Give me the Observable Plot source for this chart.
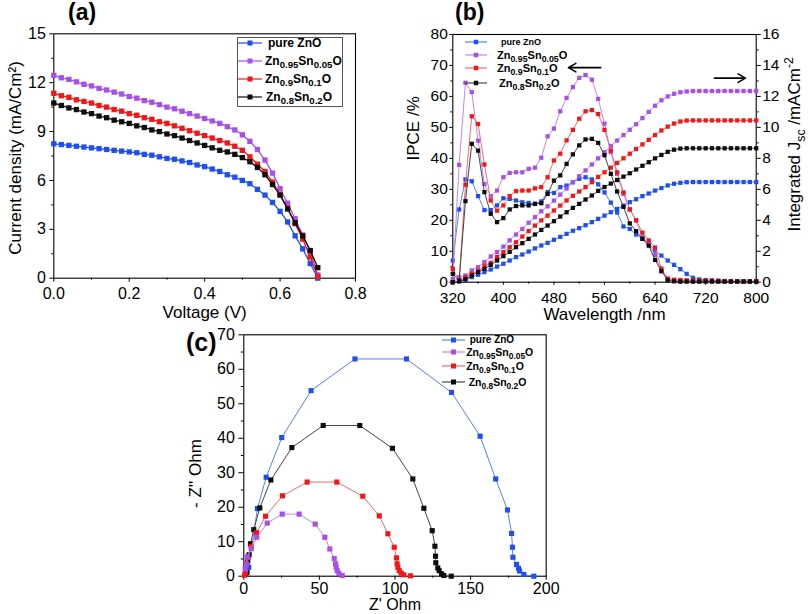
<!DOCTYPE html>
<html><head><meta charset="utf-8">
<script src="https://cdn.jsdelivr.net/npm/d3@7"></script>
<script src="https://cdn.jsdelivr.net/npm/@observablehq/plot@0.6"></script>
<style>
body{margin:0;background:#fff;font-family:"Liberation Sans",Arial,sans-serif}
#fig{position:relative;width:808px;height:614px;overflow:hidden;background:#fff}
.panel{position:absolute}
.ptitle{position:absolute;font-weight:bold;line-height:1;color:#000}
.legend{position:absolute;box-sizing:border-box}
.row{position:absolute;display:flex;align-items:center;white-space:nowrap;font-weight:bold;color:#000;height:16px}
.row sub{font-size:0.8em;vertical-align:-0.35em;line-height:0}
.row svg{display:block;flex:none}
</style></head><body><div id="fig"></div><script>
// ---------- shared series ----------
const seriesNames = ["pure ZnO", "Zn0.95Sn0.05O", "Zn0.9Sn0.1O", "Zn0.8Sn0.2O"];
const seriesLabels = ["pure ZnO", "Zn<sub>0.95</sub>Sn<sub>0.05</sub>O", "Zn<sub>0.9</sub>Sn<sub>0.1</sub>O", "Zn<sub>0.8</sub>Sn<sub>0.2</sub>O"];
const markerColors = ["#1f4ff2", "#a650e8", "#f21616", "#0d0d0d"];
const thinLineColors = ["#5a7df5", "#c483f0", "#f46a6a", "#454545"];

// ---------- panel (a): J-V ----------
const voltage = [0,0.02,0.04,0.06,0.08,0.10,0.12,0.14,0.16,0.18,0.20,0.22,0.24,0.26,0.28,0.30,0.32,0.34,0.36,0.38,0.40,0.42,0.44,0.46,0.48,0.50,0.52,0.54,0.56,0.58,0.60,0.62,0.64,0.66,0.68,0.70];
const jPure  = [8.25,8.2,8.15,8.1,8.05,8.0,7.95,7.9,7.85,7.8,7.75,7.7,7.6,7.55,7.45,7.35,7.3,7.2,7.1,6.95,6.85,6.7,6.55,6.35,6.2,6.0,5.8,5.45,5.1,4.65,4.1,3.45,2.6,1.8,0.9,0.0];
const jSn005 = [12.45,12.3,12.2,12.05,11.9,11.8,11.65,11.55,11.42,11.3,11.15,11.05,10.9,10.8,10.65,10.5,10.4,10.25,10.1,9.95,9.8,9.65,9.5,9.3,9.1,8.8,8.4,7.9,7.25,6.45,5.5,4.6,3.65,2.65,1.65,0.2];
const jSn01  = [11.35,11.2,11.1,10.95,10.85,10.75,10.6,10.5,10.35,10.25,10.1,10.0,9.85,9.75,9.6,9.5,9.35,9.2,9.05,8.9,8.75,8.6,8.45,8.3,8.1,7.85,7.45,7.0,6.55,5.9,5.15,4.3,3.35,2.4,1.3,0.1];
const jSn02  = [10.75,10.6,10.45,10.35,10.2,10.1,9.95,9.85,9.7,9.6,9.5,9.35,9.25,9.1,9.0,8.85,8.75,8.6,8.45,8.3,8.15,8.0,7.85,7.75,7.6,7.4,7.15,6.8,6.35,5.75,5.1,4.25,3.4,2.6,1.7,0.65];
const jvTicksX = [0, 0.2, 0.4, 0.6, 0.8];
const jvMinorX = [0.1, 0.3, 0.5, 0.7];
const jvTicksY = [0, 3, 6, 9, 12, 15];
const jvMinorY = [1.5, 4.5, 7.5, 10.5, 13.5];

// ---------- panel (b): IPCE + integrated Jsc ----------
const wavelength = [320,330,340,350,360,370,380,390,400,410,420,430,440,450,460,470,480,490,500,510,520,530,540,550,560,570,580,590,600,610,620,630,640,650,660,670,680,690,700,710,720,730,740,750,760,770,780,790,800];
const ipcePure  = [7,23.5,33.2,32.6,27.8,23.3,23.3,24.8,27.1,26.9,26.4,25.8,25.6,25.3,26.1,29.1,28.8,30.7,31.2,32.3,33.4,33.9,33.2,31.6,29,25.7,22.5,18,17.2,15.4,14,12.4,10.2,8.6,7.0,5.6,4.2,2.7,1.4,0.9,0.7,0.6,0.5,0.4,0.35,0.3,0.3,0.3,0.3];
const ipceSn005 = [1,37.9,64.4,61.4,45.7,31.7,27.8,29.6,33.9,35.3,35.5,35.5,36.6,37.0,40.2,47.1,49.6,55.2,59.5,63.0,66.0,66.9,65.4,59.2,51.2,42,35,28.5,23.5,20,14.5,12.5,8.8,3.5,1.0,0.6,0.5,0.4,0.3,0.3,0.3,0.3,0.3,0.3,0.2,0.2,0.2,0.2,0.2];
const ipceSn01  = [4.3,0.5,31.5,53.6,51.1,38,26.4,23.1,24.8,27.8,29.4,29.6,29.6,30.3,30.7,33.9,39.3,41.5,45.8,49.2,52.8,55.2,55.6,54.3,49.2,42.5,35.5,29,23.5,20,16,13.5,11.2,4.4,1.2,0.8,0.7,0.6,0.6,0.5,0.5,0.5,0.4,0.3,0.3,0.3,0.3,0.3,0.3];
const ipceSn02  = [2.7,0.5,26.2,44.7,42.5,29.1,22.1,19.4,20.7,23.5,24.6,24.8,24.8,25.3,25.5,28.5,32.8,34.5,38.2,41.3,44.2,46.1,46.3,45,41,35,29.3,24.3,19,16.5,14,11.8,7.2,3.6,0.7,0.3,0.2,0.2,0.2,0.2,0.2,0.2,0.2,0.2,0.2,0.2,0.2,0.2,0.2];
const jscPure  = [0,0.07,0.15,0.33,0.48,0.65,0.82,1.01,1.19,1.4,1.62,1.79,1.98,2.18,2.37,2.54,2.74,2.93,3.12,3.32,3.49,3.68,3.88,4.09,4.3,4.52,4.73,4.95,5.17,5.36,5.56,5.73,5.92,6.08,6.25,6.36,6.42,6.46,6.47,6.47,6.47,6.47,6.47,6.47,6.47,6.47,6.47,6.47,6.47];
const jscSn005 = [0,0.32,0.43,0.76,0.97,1.3,1.66,1.94,2.3,2.7,3.08,3.44,3.84,4.2,4.58,4.9,5.27,5.66,6.05,6.46,6.85,7.22,7.6,8.0,8.4,8.8,9.15,9.5,9.85,10.2,10.6,11.0,11.4,11.75,12.0,12.17,12.27,12.32,12.35,12.35,12.35,12.35,12.35,12.35,12.35,12.35,12.35,12.35,12.35];
const jscSn01  = [0,0.1,0.33,0.54,0.72,1.03,1.25,1.62,1.94,2.26,2.58,2.95,3.3,3.66,3.99,4.3,4.63,4.95,5.28,5.58,5.86,6.14,6.46,6.8,7.1,7.4,7.7,8.0,8.3,8.6,8.9,9.2,9.5,9.8,10.05,10.25,10.38,10.44,10.45,10.45,10.45,10.45,10.45,10.45,10.45,10.45,10.45,10.45,10.45];
const jscSn02  = [0,0.05,0.2,0.43,0.65,0.86,1.12,1.4,1.68,1.96,2.26,2.52,2.8,3.08,3.38,3.66,3.94,4.24,4.52,4.8,5.06,5.34,5.6,5.9,6.15,6.37,6.6,6.82,7.04,7.28,7.52,7.75,8.0,8.22,8.42,8.56,8.63,8.65,8.65,8.65,8.65,8.65,8.65,8.65,8.65,8.65,8.65,8.65,8.65];
const wlTicks = [320, 400, 480, 560, 640, 720, 800];
const wlMinor = [360, 440, 520, 600, 680, 760];
const ipceTicks = [0, 10, 20, 30, 40, 50, 60, 70, 80];
const ipceMinor = [5, 15, 25, 35, 45, 55, 65, 75];
const jscTickLabels = [0, 2, 4, 6, 8, 10, 12, 14, 16];
const jscMinor = [1, 3, 5, 7, 9, 11, 13, 15];
const jscToIpce = 80 / 16;
// direction arrows (IPCE -> left axis, Jsc -> right axis), in nm / IPCE units
const arrowNotes = [{x1: 554, x2: 503, y: 69.3}, {x1: 734, x2: 783, y: 65.9}];

// ---------- panel (c): Nyquist ----------
const zrePure  = [1.1,2.2,3.3,9.0,14.8,25.1,44.5,73.5,107.6,137.4,156.3,166.6,174.4,177.1,177.7,178.0,180.4,181.7,182.4,185.2,191.8];
const zimPure  = [0.7,1.5,2.6,19.6,28.7,40.2,53.8,63.0,63.0,53.3,40.6,28.2,19.2,12.4,8.4,5.5,3.4,2.3,1.5,0.5,0.0];
const zreSn005 = [0.9,1.6,2.3,4.9,8.6,15.5,25.4,36.6,47.2,53.6,56.9,59.8,60.7,61.1,61.8,62.9,65.1];
const zimSn005 = [2.1,3.6,5.6,8.0,11.3,15.4,18.0,18.0,15.1,11.3,7.9,5.1,3.6,2.6,1.6,0.8,0.2];
const zreSn01  = [0.5,1.1,1.8,2.6,4.9,8.4,14.4,25.6,41.9,61.5,78.7,89.6,95.3,99.5,101.0,101.4,101.9,102.8,104.1,105.8,110.3];
const zimSn01  = [0.3,1.2,3.5,5.4,8.6,12.6,17.4,23.3,27.3,27.3,23.2,17.5,12.3,8.4,5.3,3.6,2.6,1.6,0.9,0.4,0.1];
const zreSn02  = [2.0,2.6,3.5,4.4,6.6,10.6,17.9,31.8,52.5,76.7,98.3,111.8,119.1,124.6,126.4,126.8,127.0,128.3,129.2,130.8,132.3,137.2];
const zimSn02  = [1.0,4.5,6.2,9.4,13.5,19.8,27.9,37.3,43.7,43.7,37.1,28.2,19.7,13.2,8.7,5.8,3.9,2.4,1.6,0.7,0.2,0.0];
const zTicksX = [0, 50, 100, 150, 200];
const zMinorX = [25, 75, 125, 175];
const zTicksY = [0, 10, 20, 30, 40, 50, 60, 70];
const zMinorY = [5, 15, 25, 35, 45, 55, 65];

// ---------- build ----------
const fig = document.getElementById("fig");
const baseStyle = {background: "transparent", overflow: "visible", fontFamily: '"Liberation Sans", Arial, sans-serif', fontSize: "16px", color: "#000"};
const blank = () => "";
const mid = {textAnchor: "middle", lineAnchor: "middle"};

function place(el, left, top) {
  el.classList.add("panel");
  el.style.left = left + "px";
  el.style.top = top + "px";
  fig.appendChild(el);
}

function setRich(svg, plain, parts, fs) {
  svg.querySelectorAll("text").forEach(t => {
    if (t.textContent !== plain) return;
    t.textContent = "";
    let shift = 0;
    for (const [str, kind] of parts) {
      const ts = document.createElementNS("http://www.w3.org/2000/svg", "tspan");
      const target = kind === "sub" ? fs * 0.3 : kind === "sup" ? -fs * 0.42 : 0;
      ts.setAttribute("dy", target - shift);
      shift = target;
      if (kind) ts.setAttribute("font-size", fs * 0.72);
      ts.textContent = str;
      t.appendChild(ts);
    }
  });
}

// panel (a)
const jvSeries = [jPure, jSn005, jSn01, jSn02];
const rowsA = seriesNames.flatMap((s, i) => voltage.map((v, k) => ({s, v, j: jvSeries[i][k]})));
const plotA = Plot.plot({
  width: 400, height: 320,
  marginLeft: 53.3, marginRight: 45, marginTop: 33.3, marginBottom: 42.3,
  x: {domain: [0, 0.8]}, y: {domain: [0, 15]},
  style: baseStyle,
  marks: [
    Plot.frame({stroke: "#000", strokeWidth: 1.1}),
    Plot.axisX({ticks: jvTicksX, tickSize: 4, tickPadding: 5, tickFormat: d => d.toFixed(1), label: null}),
    Plot.axisX({ticks: jvMinorX, tickSize: 2, tickFormat: blank, label: null}),
    Plot.axisY({ticks: jvTicksY, tickSize: 4, tickPadding: 4, tickFormat: d => String(d), label: null}),
    Plot.axisY({ticks: jvMinorY, tickSize: 2, tickFormat: blank, label: null}),
    ...seriesNames.flatMap((s, i) => {
      const d = rowsA.filter(r => r.s === s);
      return [
        Plot.line(d, {x: "v", y: "j", stroke: markerColors[i], strokeWidth: 1.3}),
        Plot.dot(d, {x: "v", y: "j", symbol: "square", fill: markerColors[i], r: 3})
      ];
    }),
    Plot.text(["Voltage (V)"], {text: d => d, frameAnchor: "bottom", dy: 34, fontSize: 17, ...mid}),
    Plot.text(["Current density (mA/Cm²)"], {text: d => d, frameAnchor: "left", rotate: -90, dx: -38, dy: 2, fontSize: 17, ...mid})
  ]
});
place(plotA, 0, 0);

// panel (b)
const ipceSeries = [ipcePure, ipceSn005, ipceSn01, ipceSn02];
const jscSeries = [jscPure, jscSn005, jscSn01, jscSn02];
const rowsB = seriesNames.flatMap((s, i) => wavelength.map((w, k) => ({s, w, ipce: ipceSeries[i][k], jsc: jscSeries[i][k]})));
const jscLabel = "Integrated Jsc /mACm-2";
const plotB = Plot.plot({
  width: 408, height: 320,
  marginLeft: 52.3, marginRight: 52.3, marginTop: 34, marginBottom: 38.3,
  x: {domain: [320, 800]}, y: {domain: [0, 80]},
  style: {...baseStyle, fontSize: "15.5px"},
  marks: [
    Plot.frame({stroke: "#000", strokeWidth: 1.1}),
    Plot.axisX({ticks: wlTicks, tickSize: 3, tickPadding: 7, tickFormat: d => String(d), label: null}),
    Plot.axisX({ticks: wlMinor, tickSize: 2, tickFormat: blank, label: null}),
    Plot.axisY({ticks: ipceTicks, tickSize: 3, tickPadding: 2, tickFormat: d => String(d), label: null}),
    Plot.axisY({ticks: ipceMinor, tickSize: 2, tickFormat: blank, label: null}),
    Plot.axisY({anchor: "right", ticks: jscTickLabels.map(v => v * jscToIpce), tickSize: 4, tickPadding: 2, tickFormat: d => String(d / jscToIpce), label: null}),
    Plot.axisY({anchor: "right", ticks: jscMinor.map(v => v * jscToIpce), tickSize: 2, tickFormat: blank, label: null}),
    ...seriesNames.flatMap((s, i) => {
      const d = rowsB.filter(r => r.s === s);
      return [
        Plot.line(d, {x: "w", y: "ipce", stroke: thinLineColors[i], strokeWidth: 1}),
        Plot.dot(d, {x: "w", y: "ipce", symbol: "square", fill: markerColors[i], r: 2.4}),
        Plot.line(d, {x: "w", y: r => r.jsc * jscToIpce, stroke: thinLineColors[i], strokeWidth: 1}),
        Plot.dot(d, {x: "w", y: r => r.jsc * jscToIpce, symbol: "square", fill: markerColors[i], r: 2.4})
      ];
    }),
    Plot.arrow(arrowNotes, {x1: "x1", x2: "x2", y1: "y", y2: "y", stroke: "#000", strokeWidth: 1.6, headLength: 8}),
    Plot.text(["Wavelength /nm"], {text: d => d, frameAnchor: "bottom", dy: 32.5, fontSize: 17, ...mid}),
    Plot.text(["IPCE /%"], {text: d => d, frameAnchor: "left", rotate: -90, dx: -39, dy: -30, fontSize: 17, ...mid}),
    Plot.text([jscLabel], {text: d => d, frameAnchor: "right", rotate: -90, dx: 38, dy: -14, fontSize: 17, ...mid})
  ]
});
setRich(plotB, jscLabel, [["Integrated J", ""], ["sc", "sub"], [" /mACm", ""], ["-2", "sup"]], 17);
place(plotB, 400, 0);

// panel (c)
const zreSeries = [zrePure, zreSn005, zreSn01, zreSn02];
const zimSeries = [zimPure, zimSn005, zimSn01, zimSn02];
const rowsC = seriesNames.flatMap((s, i) => zreSeries[i].map((x, k) => ({s, x, y: zimSeries[i][k]})));
const drawOrderC = [0, 3, 2, 1];
const plotC = Plot.plot({
  width: 420, height: 294,
  marginLeft: 63.3, marginRight: 54.3, marginTop: 14.3, marginBottom: 38.3,
  x: {domain: [0, 200]}, y: {domain: [0, 70]},
  style: baseStyle,
  marks: [
    Plot.frame({stroke: "#000", strokeWidth: 1.1}),
    Plot.axisX({ticks: zTicksX, tickSize: 4, tickPadding: 2, tickFormat: d => String(d), label: null}),
    Plot.axisX({ticks: zMinorX, tickSize: 2, tickFormat: blank, label: null}),
    Plot.axisY({ticks: zTicksY, tickSize: 5, tickPadding: 4, tickFormat: d => String(d), label: null}),
    Plot.axisY({ticks: zMinorY, tickSize: 2.5, tickFormat: blank, label: null}),
    ...drawOrderC.flatMap(i => {
      const d = rowsC.filter(r => r.s === seriesNames[i]);
      return [
        Plot.line(d, {x: "x", y: "y", stroke: thinLineColors[i], strokeWidth: 1}),
        Plot.dot(d, {x: "x", y: "y", symbol: "square", fill: markerColors[i], r: 2.9})
      ];
    }),
    Plot.text(["Z' Ohm"], {text: d => d, frameAnchor: "bottom", dy: 29, fontSize: 16, ...mid}),
    Plot.text(["- Z'' Ohm"], {text: d => d, frameAnchor: "left", rotate: -90, dx: -48, dy: 18, fontSize: 17, ...mid})
  ]
});
place(plotC, 180, 320);

// panel titles
[["(a)", 68, 1, 23], ["(b)", 455, 1, 23], ["(c)", 186, 330, 25]].forEach(([t, x, y, fs]) => {
  const d = document.createElement("div");
  d.className = "ptitle";
  d.textContent = t;
  Object.assign(d.style, {left: x + "px", top: y + "px", fontSize: fs + "px"});
  fig.appendChild(d);
});

// legends
function legend(cfg) {
  const box = document.createElement("div");
  box.className = "legend";
  Object.assign(box.style, {left: cfg.left + "px", top: cfg.top + "px", width: cfg.width + "px", height: cfg.height + "px", border: cfg.border || "none"});
  const bw = cfg.border ? 1 : 0;
  seriesNames.forEach((s, i) => {
    const row = document.createElement("div");
    row.className = "row";
    row.style.left = (cfg.lineX - cfg.left - bw) + "px";
    row.style.top = (cfg.rowsY[i] - cfg.top - bw - 8) + "px";
    const L = cfg.lineLen, q = cfg.sq;
    row.innerHTML = `<svg width="${L}" height="10"><line x1="0" x2="${L}" y1="5" y2="5" stroke="${cfg.lineColors[i]}" stroke-width="1.2"/><rect x="${L / 2 - q / 2}" y="${5 - q / 2}" width="${q}" height="${q}" fill="${markerColors[i]}"/></svg><span style="margin-left:${cfg.gap[i]}px;font-size:${cfg.fs[i]}px">${seriesLabels[i]}</span>`;
    box.appendChild(row);
  });
  fig.appendChild(box);
}
legend({left: 236.7, top: 37.3, width: 106.6, height: 70, border: "1px solid #555",
  lineX: 238, lineLen: 24, rowsY: [43, 60.7, 79.3, 97], sq: 5, lineColors: markerColors,
  gap: [6, 3, 3, 4], fs: [12, 12, 12, 12]});
legend({left: 462, top: 33, width: 150, height: 60,
  lineX: 465, lineLen: 22, rowsY: [42, 54.5, 68.3, 83], sq: 4.5, lineColors: thinLineColors,
  gap: [14, 10, 10, 12], fs: [9, 11, 11, 11]});
legend({left: 438, top: 331, width: 110, height: 60,
  lineX: 441.7, lineLen: 23, rowsY: [339.5, 352, 366, 381.7], sq: 5, lineColors: thinLineColors,
  gap: [5, 1.5, 1.5, 4], fs: [10, 10.5, 10.5, 10.5]});
</script></body></html>
